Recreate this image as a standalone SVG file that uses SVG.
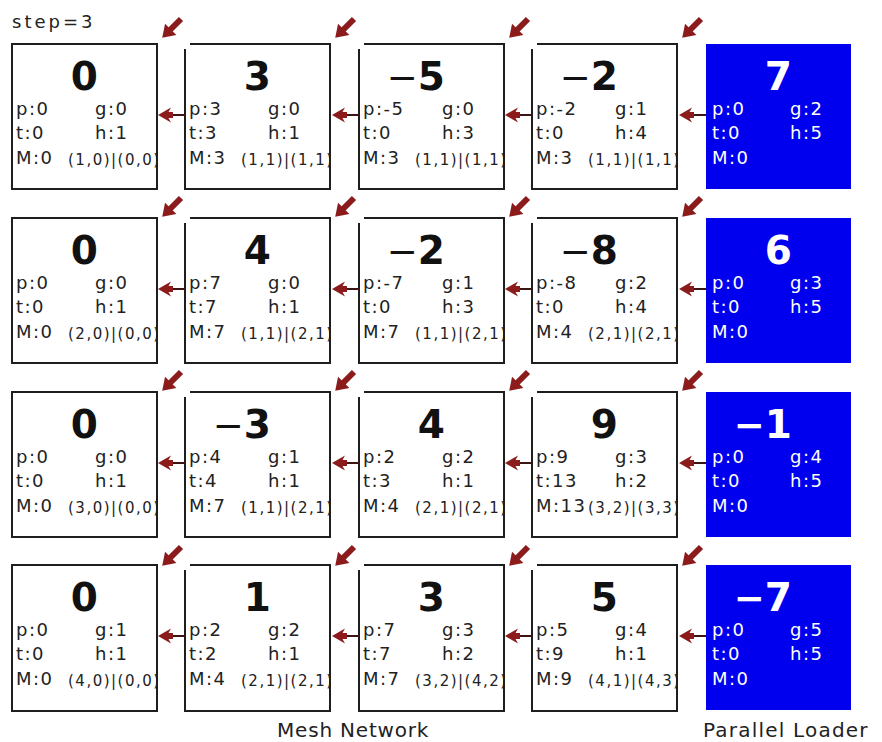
<svg xmlns="http://www.w3.org/2000/svg" width="882" height="742" viewBox="0 0 882 742">
<style>
.bd{fill:#fff;stroke:#1e1e1e;stroke-width:2}
.ld{fill:#0000ee}
.big{font-family:"DejaVu Sans",sans-serif;font-size:39px;font-weight:bold;text-anchor:end;fill:#111}
.m{font-weight:normal;font-size:37px}
.s{font-family:"DejaVu Sans",sans-serif;font-size:18px;letter-spacing:1.5px;fill:#222}
.c{font-size:15px;letter-spacing:1.5px}
.w text{fill:#fff}
.w .m{font-weight:bold}
.lbl{font-family:"DejaVu Sans",sans-serif;font-size:20px;fill:#222}
.ha{stroke:#3c1414;stroke-width:2;marker-end:url(#hh)}
.da{stroke:#8c1c1c;stroke-width:6;marker-end:url(#dh)}
</style>
<defs>
<clipPath id="cb"><rect x="0" y="0" width="144" height="145"/></clipPath>
<marker id="hh" markerUnits="userSpaceOnUse" orient="auto" refX="0" refY="0" markerWidth="20" markerHeight="20" overflow="visible">
<path d="M14,0 L1,-7.5 L3.5,-3 L-1,-3 L-1,3 L3.5,3 L1,7.5 Z" fill="#8c1c1c"/>
</marker>
<marker id="dh" markerUnits="userSpaceOnUse" orient="auto" refX="0" refY="0" markerWidth="20" markerHeight="20" overflow="visible">
<path d="M11,0 L-1,-8 L-1,8 Z" fill="#8c1c1c"/>
</marker>
</defs>
<rect width="882" height="742" fill="#fff"/>
<text class="s" x="12" y="28" style="letter-spacing:3px">step=3</text>

<!-- Row 1 -->
<g id="r1c1" transform="translate(12,44)"><rect class="bd" width="145" height="145"/>
<text class="big" x="86" y="46">0</text>
<text class="s" y="71"><tspan x="4">p:0</tspan><tspan x="83">g:0</tspan></text>
<text class="s" y="95"><tspan x="4">t:0</tspan><tspan x="83">h:1</tspan></text>
<text class="s" x="4" y="120">M:0</text>
<text class="s c" x="56" y="121" clip-path="url(#cb)">(1,0)|(0,0)</text></g>
<g id="r1c2" transform="translate(185,44)"><path class="bd" d="M0,5V145H145V0H5"/>
<text class="big" x="86" y="46">3</text>
<text class="s" y="71"><tspan x="4">p:3</tspan><tspan x="83">g:0</tspan></text>
<text class="s" y="95"><tspan x="4">t:3</tspan><tspan x="83">h:1</tspan></text>
<text class="s" x="4" y="120">M:3</text>
<text class="s c" x="56" y="121" clip-path="url(#cb)">(1,1)|(1,1)</text></g>
<g id="r1c3" transform="translate(359,44)"><path class="bd" d="M0,5V145H145V0H5"/>
<text class="big" x="86" y="46"><tspan class="m">−</tspan>5</text>
<text class="s" y="71"><tspan x="4">p:-5</tspan><tspan x="83">g:0</tspan></text>
<text class="s" y="95"><tspan x="4">t:0</tspan><tspan x="83">h:3</tspan></text>
<text class="s" x="4" y="120">M:3</text>
<text class="s c" x="56" y="121" clip-path="url(#cb)">(1,1)|(1,1)</text></g>
<g id="r1c4" transform="translate(532,44)"><path class="bd" d="M0,5V145H145V0H5"/>
<text class="big" x="86" y="46"><tspan class="m">−</tspan>2</text>
<text class="s" y="71"><tspan x="4">p:-2</tspan><tspan x="83">g:1</tspan></text>
<text class="s" y="95"><tspan x="4">t:0</tspan><tspan x="83">h:4</tspan></text>
<text class="s" x="4" y="120">M:3</text>
<text class="s c" x="56" y="121" clip-path="url(#cb)">(1,1)|(1,1)</text></g>
<g id="r1c5" class="w" transform="translate(706,44)"><rect class="ld" width="145" height="145"/>
<text class="big" x="86" y="46">7</text>
<text class="s" y="71"><tspan x="6">p:0</tspan><tspan x="84">g:2</tspan></text>
<text class="s" y="95"><tspan x="6">t:0</tspan><tspan x="84">h:5</tspan></text>
<text class="s" x="6" y="120">M:0</text></g>

<!-- Row 2 -->
<g id="r2c1" transform="translate(12,218)"><rect class="bd" width="145" height="145"/>
<text class="big" x="86" y="46">0</text>
<text class="s" y="71"><tspan x="4">p:0</tspan><tspan x="83">g:0</tspan></text>
<text class="s" y="95"><tspan x="4">t:0</tspan><tspan x="83">h:1</tspan></text>
<text class="s" x="4" y="120">M:0</text>
<text class="s c" x="56" y="121" clip-path="url(#cb)">(2,0)|(0,0)</text></g>
<g id="r2c2" transform="translate(185,218)"><path class="bd" d="M0,5V145H145V0H5"/>
<text class="big" x="86" y="46">4</text>
<text class="s" y="71"><tspan x="4">p:7</tspan><tspan x="83">g:0</tspan></text>
<text class="s" y="95"><tspan x="4">t:7</tspan><tspan x="83">h:1</tspan></text>
<text class="s" x="4" y="120">M:7</text>
<text class="s c" x="56" y="121" clip-path="url(#cb)">(1,1)|(2,1)</text></g>
<g id="r2c3" transform="translate(359,218)"><path class="bd" d="M0,5V145H145V0H5"/>
<text class="big" x="86" y="46"><tspan class="m">−</tspan>2</text>
<text class="s" y="71"><tspan x="4">p:-7</tspan><tspan x="83">g:1</tspan></text>
<text class="s" y="95"><tspan x="4">t:0</tspan><tspan x="83">h:3</tspan></text>
<text class="s" x="4" y="120">M:7</text>
<text class="s c" x="56" y="121" clip-path="url(#cb)">(1,1)|(2,1)</text></g>
<g id="r2c4" transform="translate(532,218)"><path class="bd" d="M0,5V145H145V0H5"/>
<text class="big" x="86" y="46"><tspan class="m">−</tspan>8</text>
<text class="s" y="71"><tspan x="4">p:-8</tspan><tspan x="83">g:2</tspan></text>
<text class="s" y="95"><tspan x="4">t:0</tspan><tspan x="83">h:4</tspan></text>
<text class="s" x="4" y="120">M:4</text>
<text class="s c" x="56" y="121" clip-path="url(#cb)">(2,1)|(2,1)</text></g>
<g id="r2c5" class="w" transform="translate(706,218)"><rect class="ld" width="145" height="145"/>
<text class="big" x="86" y="46">6</text>
<text class="s" y="71"><tspan x="6">p:0</tspan><tspan x="84">g:3</tspan></text>
<text class="s" y="95"><tspan x="6">t:0</tspan><tspan x="84">h:5</tspan></text>
<text class="s" x="6" y="120">M:0</text></g>

<!-- Row 3 -->
<g id="r3c1" transform="translate(12,392)"><rect class="bd" width="145" height="145"/>
<text class="big" x="86" y="46">0</text>
<text class="s" y="71"><tspan x="4">p:0</tspan><tspan x="83">g:0</tspan></text>
<text class="s" y="95"><tspan x="4">t:0</tspan><tspan x="83">h:1</tspan></text>
<text class="s" x="4" y="120">M:0</text>
<text class="s c" x="56" y="121" clip-path="url(#cb)">(3,0)|(0,0)</text></g>
<g id="r3c2" transform="translate(185,392)"><path class="bd" d="M0,5V145H145V0H5"/>
<text class="big" x="86" y="46"><tspan class="m">−</tspan>3</text>
<text class="s" y="71"><tspan x="4">p:4</tspan><tspan x="83">g:1</tspan></text>
<text class="s" y="95"><tspan x="4">t:4</tspan><tspan x="83">h:1</tspan></text>
<text class="s" x="4" y="120">M:7</text>
<text class="s c" x="56" y="121" clip-path="url(#cb)">(1,1)|(2,1)</text></g>
<g id="r3c3" transform="translate(359,392)"><path class="bd" d="M0,5V145H145V0H5"/>
<text class="big" x="86" y="46">4</text>
<text class="s" y="71"><tspan x="4">p:2</tspan><tspan x="83">g:2</tspan></text>
<text class="s" y="95"><tspan x="4">t:3</tspan><tspan x="83">h:1</tspan></text>
<text class="s" x="4" y="120">M:4</text>
<text class="s c" x="56" y="121" clip-path="url(#cb)">(2,1)|(2,1)</text></g>
<g id="r3c4" transform="translate(532,392)"><path class="bd" d="M0,5V145H145V0H5"/>
<text class="big" x="86" y="46">9</text>
<text class="s" y="71"><tspan x="4">p:9</tspan><tspan x="83">g:3</tspan></text>
<text class="s" y="95"><tspan x="4">t:13</tspan><tspan x="83">h:2</tspan></text>
<text class="s" x="4" y="120">M:13</text>
<text class="s c" x="56" y="121" clip-path="url(#cb)">(3,2)|(3,3)</text></g>
<g id="r3c5" class="w" transform="translate(706,392)"><rect class="ld" width="145" height="145"/>
<text class="big" x="86" y="46"><tspan class="m">−</tspan>1</text>
<text class="s" y="71"><tspan x="6">p:0</tspan><tspan x="84">g:4</tspan></text>
<text class="s" y="95"><tspan x="6">t:0</tspan><tspan x="84">h:5</tspan></text>
<text class="s" x="6" y="120">M:0</text></g>

<!-- Row 4 -->
<g id="r4c1" transform="translate(12,565)"><rect class="bd" width="145" height="146"/>
<text class="big" x="86" y="46">0</text>
<text class="s" y="71"><tspan x="4">p:0</tspan><tspan x="83">g:1</tspan></text>
<text class="s" y="95"><tspan x="4">t:0</tspan><tspan x="83">h:1</tspan></text>
<text class="s" x="4" y="120">M:0</text>
<text class="s c" x="56" y="121" clip-path="url(#cb)">(4,0)|(0,0)</text></g>
<g id="r4c2" transform="translate(185,565)"><path class="bd" d="M0,5V146H145V0H5"/>
<text class="big" x="86" y="46">1</text>
<text class="s" y="71"><tspan x="4">p:2</tspan><tspan x="83">g:2</tspan></text>
<text class="s" y="95"><tspan x="4">t:2</tspan><tspan x="83">h:1</tspan></text>
<text class="s" x="4" y="120">M:4</text>
<text class="s c" x="56" y="121" clip-path="url(#cb)">(2,1)|(2,1)</text></g>
<g id="r4c3" transform="translate(359,565)"><path class="bd" d="M0,5V146H145V0H5"/>
<text class="big" x="86" y="46">3</text>
<text class="s" y="71"><tspan x="4">p:7</tspan><tspan x="83">g:3</tspan></text>
<text class="s" y="95"><tspan x="4">t:7</tspan><tspan x="83">h:2</tspan></text>
<text class="s" x="4" y="120">M:7</text>
<text class="s c" x="56" y="121" clip-path="url(#cb)">(3,2)|(4,2)</text></g>
<g id="r4c4" transform="translate(532,565)"><path class="bd" d="M0,5V146H145V0H5"/>
<text class="big" x="86" y="46">5</text>
<text class="s" y="71"><tspan x="4">p:5</tspan><tspan x="83">g:4</tspan></text>
<text class="s" y="95"><tspan x="4">t:9</tspan><tspan x="83">h:1</tspan></text>
<text class="s" x="4" y="120">M:9</text>
<text class="s c" x="56" y="121" clip-path="url(#cb)">(4,1)|(4,3)</text></g>
<g id="r4c5" class="w" transform="translate(706,565)"><rect class="ld" width="145" height="145"/>
<text class="big" x="86" y="46"><tspan class="m">−</tspan>7</text>
<text class="s" y="71"><tspan x="6">p:0</tspan><tspan x="84">g:5</tspan></text>
<text class="s" y="95"><tspan x="6">t:0</tspan><tspan x="84">h:5</tspan></text>
<text class="s" x="6" y="120">M:0</text></g>

<g id="connectors">
<line class="ha" x1="185" y1="115" x2="172" y2="115"/>
<line class="ha" x1="359" y1="115" x2="346" y2="115"/>
<line class="ha" x1="532" y1="115" x2="519" y2="115"/>
<line class="ha" x1="706" y1="115" x2="693" y2="115"/>
<line class="ha" x1="185" y1="289" x2="172" y2="289"/>
<line class="ha" x1="359" y1="289" x2="346" y2="289"/>
<line class="ha" x1="532" y1="289" x2="519" y2="289"/>
<line class="ha" x1="706" y1="289" x2="693" y2="289"/>
<line class="ha" x1="185" y1="463" x2="172" y2="463"/>
<line class="ha" x1="359" y1="463" x2="346" y2="463"/>
<line class="ha" x1="532" y1="463" x2="519" y2="463"/>
<line class="ha" x1="706" y1="463" x2="693" y2="463"/>
<line class="ha" x1="185" y1="636" x2="172" y2="636"/>
<line class="ha" x1="359" y1="636" x2="346" y2="636"/>
<line class="ha" x1="532" y1="636" x2="519" y2="636"/>
<line class="ha" x1="706" y1="636" x2="693" y2="636"/>
<line class="da" x1="181" y1="19" x2="170" y2="30"/>
<line class="da" x1="354" y1="19" x2="343" y2="30"/>
<line class="da" x1="528" y1="19" x2="517" y2="30"/>
<line class="da" x1="701" y1="19" x2="690" y2="30"/>
<line class="da" x1="181" y1="198" x2="170" y2="209"/>
<line class="da" x1="354" y1="198" x2="343" y2="209"/>
<line class="da" x1="528" y1="198" x2="517" y2="209"/>
<line class="da" x1="701" y1="198" x2="690" y2="209"/>
<line class="da" x1="181" y1="372" x2="170" y2="383"/>
<line class="da" x1="354" y1="372" x2="343" y2="383"/>
<line class="da" x1="528" y1="372" x2="517" y2="383"/>
<line class="da" x1="701" y1="372" x2="690" y2="383"/>
<line class="da" x1="181" y1="547" x2="170" y2="558"/>
<line class="da" x1="354" y1="547" x2="343" y2="558"/>
<line class="da" x1="528" y1="547" x2="517" y2="558"/>
<line class="da" x1="701" y1="547" x2="690" y2="558"/>
</g>

<text class="lbl" x="277" y="737" style="letter-spacing:0.8px">Mesh Network</text>
<text class="lbl" x="703" y="737" style="letter-spacing:1.2px">Parallel Loader</text>
</svg>
